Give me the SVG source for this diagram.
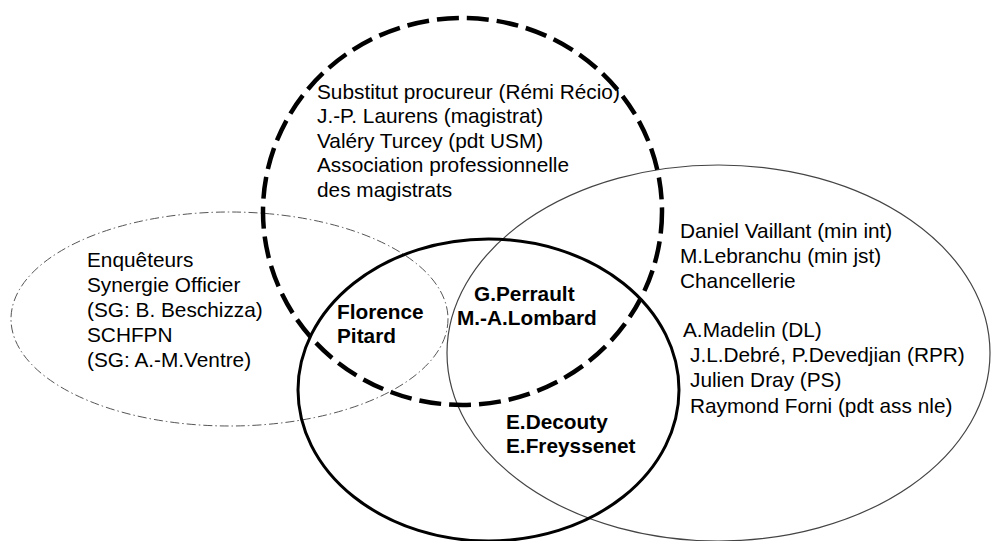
<svg xmlns="http://www.w3.org/2000/svg" width="991" height="541" viewBox="0 0 991 541">
<style>
  text { font-family: "Liberation Sans", Arial, sans-serif; font-size: 20.8px; fill: #000; }
  .b { font-weight: bold; }
  .dashed { fill: none; stroke: #000; stroke-width: 4.5; stroke-dasharray: 22 8; }
  .dashdot { fill: none; stroke: #555; stroke-width: 1; stroke-dasharray: 9 3 1.5 3; }
  .solid { fill: none; stroke: #000; stroke-width: 3; }
  .thin { fill: none; stroke: #444; stroke-width: 1.2; }
</style>
<rect width="991" height="541" fill="#fff"/>
<g id="connectors"></g>
<g id="enqueteurs">
  <ellipse class="dashdot" cx="229.5" cy="319" rx="218.5" ry="107"/>
  <text x="87" y="267">Enquêteurs</text>
  <text x="87" y="292">Synergie Officier</text>
  <text x="87" y="317">(SG: B. Beschizza)</text>
  <text x="87" y="342">SCHFPN</text>
  <text x="87" y="367">(SG: A.-M.Ventre)</text>
</g>
<g id="politiques">
  <ellipse class="thin" cx="718.5" cy="353" rx="271.5" ry="188"/>
  <text x="680" y="238">Daniel Vaillant (min int)</text>
  <text x="680" y="263">M.Lebranchu (min jst)</text>
  <text x="680" y="288">Chancellerie</text>
  <text x="683" y="337">A.Madelin (DL)</text>
  <text x="690" y="362">J.L.Debré, P.Devedjian (RPR)</text>
  <text x="690" y="387">Julien Dray (PS)</text>
  <text x="690" y="413">Raymond Forni (pdt ass nle)</text>
</g>
<g id="central">
  <ellipse class="solid" cx="488.5" cy="390" rx="190.5" ry="151"/>
</g>
<g id="magistrats">
  <ellipse class="dashed" cx="462.5" cy="211.5" rx="199.5" ry="193.5"/>
  <text x="317" y="99">Substitut procureur (Rémi Récio)</text>
  <text x="317" y="123">J.-P. Laurens (magistrat)</text>
  <text x="317" y="148">Valéry Turcey (pdt USM)</text>
  <text x="317" y="172">Association professionnelle</text>
  <text x="317" y="197">des magistrats</text>
</g>
<g id="pitard">
  <text class="b" x="337" y="319">Florence</text>
  <text class="b" x="337" y="343">Pitard</text>
</g>
<g id="perrault-lombard">
  <text class="b" x="474" y="301">G.Perrault</text>
  <text class="b" x="457" y="325">M.-A.Lombard</text>
</g>
<g id="decouty-freyssenet">
  <text class="b" x="506" y="429">E.Decouty</text>
  <text class="b" x="506" y="453">E.Freyssenet</text>
</g>
</svg>
